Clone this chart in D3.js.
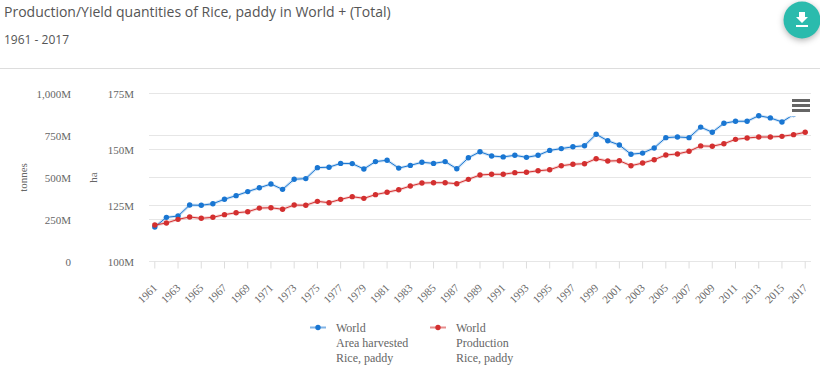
<!DOCTYPE html>
<html>
<head>
<meta charset="utf-8">
<script src="https://cdn.jsdelivr.net/npm/d3@7"></script>
<style>
	html, body { margin: 0; padding: 0; background: #fff; overflow: hidden; }
	svg { display: block; }
	.grid line { stroke: #e6e6e6; }
	.grid path { display: none; }
	.lab text { font-family: "Liberation Serif", serif; font-size: 11px; fill: #666; }
	.lab text.row { font-size: 12px; }
</style>
</head>
<body>
<svg></svg>
<script>
var years = d3.range(1961, 2018).map(String);
var tickYears = years.filter(function(d, i){ return i % 2 === 0; });

// million ha, right axis
var areaHarvested = [
	115.4, 119.7, 120.3, 125.2, 125.1, 125.8, 127.8, 129.4, 131.2, 132.9,
	134.6, 132.2, 136.7, 137.0, 141.9, 142.1, 143.8, 143.7, 141.3, 144.6,
	145.2, 141.7, 142.9, 144.3, 143.8, 144.6, 141.4, 146.3, 149.0, 147.1,
	146.7, 147.4, 146.5, 147.4, 149.6, 150.4, 151.2, 151.7, 156.8, 153.9,
	152.0, 147.9, 148.4, 150.7, 155.3, 155.6, 155.3, 160.0, 157.7, 161.7,
	162.6, 162.6, 165.1, 164.1, 162.3, 165.6, 167.2
];
// million tonnes, left axis
var production = [
	217, 229, 251, 265, 257, 263, 279, 290, 296, 318,
	320, 311, 336, 335, 358, 350, 370, 386, 376, 398,
	412, 427, 449, 467, 469, 469, 463, 489, 515, 519,
	519, 529, 531, 540, 546, 570, 579, 582, 612, 598,
	600, 570, 586, 606, 634, 640, 656, 688, 686, 701,
	727, 735, 741, 741, 745, 755, 769
];
var tonnesTicks = [0, 250, 500, 750, 1000];
var haTicks = [100, 125, 150, 175];
var legendArea = ["World", "Area harvested", "Rice, paddy"];
var legendProd = ["World", "Production", "Rice, paddy"];

var blue = "#1976d2",
    red = "#d32f2f",
    plotLeft = 149,
    plotRight = 811,
    plotTop = 93.5,
    plotBottom = 261.5;

var svg = d3.select("svg")
	.attr("width", 820)
	.attr("height", 371);

var x = d3.scalePoint().domain(years).range([plotLeft, plotRight]).padding(0.5);
var yTonnes = d3.scaleLinear().domain([0, 1000]).range([plotBottom, plotTop]);
var yHa = d3.scaleLinear().domain([100, 175]).range([plotBottom, plotTop]);

// header
svg.append("text")
	.attr("x", 4).attr("y", 17)
	.style("font-family", "Open Sans")
	.style("font-size", "14px")
	.style("fill", "#555")
	.text("Production/Yield quantities of Rice, paddy in World + (Total)");
svg.append("text")
	.attr("x", 4).attr("y", 44)
	.style("font-family", "Open Sans")
	.style("font-size", "12px")
	.style("fill", "#555")
	.text("1961 - 2017");
svg.append("line")
	.attr("x1", 0).attr("x2", 820)
	.attr("y1", 68.5).attr("y2", 68.5)
	.attr("stroke", "#ddd");

// download button
var btn = svg.append("g").attr("transform", "translate(802,20)");
btn.append("circle")
	.attr("r", 18.5)
	.attr("fill", "#2bbbad")
	.style("filter", "drop-shadow(0 2px 3px rgba(0,0,0,.3))");
btn.append("path")
	.attr("d", "M-3,-8H3V-3H6L0,3L-6,-3H-3ZM-6,5H6V7H-6Z")
	.attr("fill", "#fff");

// axes with gridlines
var axisL = d3.axisLeft(yTonnes)
	.tickValues(tonnesTicks)
	.tickSize(0)
	.tickFormat(function(d){ return d === 0 ? "0" : d3.format(",")(d) + "M"; });
var axisR = d3.axisLeft(yHa)
	.tickValues(haTicks)
	.tickSize(0)
	.tickFormat(function(d){ return d + "M"; });

svg.append("g")
	.attr("class", "grid")
	.attr("transform", "translate(" + plotLeft + ",0)")
	.call(d3.axisLeft(yTonnes).offset(0).tickValues(tonnesTicks).tickSize(-(plotRight - plotLeft)).tickFormat(""));
svg.append("g")
	.attr("class", "grid")
	.attr("transform", "translate(" + plotLeft + ",0)")
	.call(d3.axisLeft(yHa).offset(0).tickValues(haTicks).tickSize(-(plotRight - plotLeft)).tickFormat(""));

var gL = svg.append("g").attr("class", "lab").attr("transform", "translate(71,0)").call(axisL);
var gR = svg.append("g").attr("class", "lab").attr("transform", "translate(134,0)").call(axisR);
gL.select(".domain").remove();
gR.select(".domain").remove();
gL.selectAll("text").attr("x", 0).attr("y", 0);
gR.selectAll("text").attr("x", 0).attr("y", 0);

var axisX = d3.axisBottom(x).offset(0).tickValues(tickYears).tickSize(7);
var gX = svg.append("g")
	.attr("class", "lab")
	.attr("transform", "translate(0," + plotBottom + ")")
	.call(axisX);
gX.select(".domain").remove();
gX.selectAll("line").attr("stroke", "#ddd");
gX.selectAll("text")
	.attr("text-anchor", "end")
	.attr("x", 3)
	.attr("y", 27)
	.attr("dy", 0)
	.attr("transform", "rotate(-45 3 27)");

// axis titles
var axisTitle = svg.append("g").attr("class", "lab");
axisTitle.append("text")
	.attr("transform", "translate(27,177.5) rotate(-90)")
	.attr("text-anchor", "middle")
	.text("tonnes");
axisTitle.append("text")
	.attr("transform", "translate(97,177.5) rotate(-90)")
	.attr("text-anchor", "middle")
	.text("ha");

// series
function drawSeries(values, yScale, color){
	var line = d3.line()
		.x(function(d, i){ return x(years[i]); })
		.y(function(d){ return yScale(d); });
	var g = svg.append("g");
	g.append("path")
		.attr("d", line(values))
		.attr("fill", "none")
		.attr("stroke", color)
		.attr("stroke-opacity", 0.2)
		.attr("stroke-width", 3);
	g.append("path")
		.attr("d", line(values))
		.attr("fill", "none")
		.attr("stroke", color)
		.attr("stroke-width", 1);
	g.selectAll("circle")
		.data(values)
		.join("circle")
		.attr("cx", function(d, i){ return x(years[i]); })
		.attr("cy", function(d){ return yScale(d); })
		.attr("r", 2.7)
		.attr("fill", color);
}
drawSeries(areaHarvested, yHa, blue);
drawSeries(production, yTonnes, red);

// context menu button sits on top of the end of the blue line
svg.append("rect")
	.attr("x", 788).attr("y", 96)
	.attr("width", 26).attr("height", 20.5)
	.attr("fill", "#fff");
svg.selectAll(".menu")
	.data([100.5, 105.5, 110.5])
	.join("line")
	.attr("class", "menu")
	.attr("x1", 792).attr("x2", 810)
	.attr("y1", function(d){ return d; })
	.attr("y2", function(d){ return d; })
	.attr("stroke", "#666")
	.attr("stroke-width", 3);

// legend
function drawLegend(x0, color, rows){
	var g = svg.append("g").attr("class", "lab").attr("transform", "translate(" + x0 + ",327.5)");
	g.append("line")
		.attr("x1", 0).attr("x2", 16)
		.attr("stroke", color)
		.attr("stroke-opacity", 0.55)
		.attr("stroke-width", 2);
	g.append("circle")
		.attr("cx", 8)
		.attr("r", 2.7)
		.attr("fill", color);
	g.selectAll(".row")
		.data(rows)
		.join("text")
		.attr("class", "row")
		.attr("x", 26)
		.attr("y", function(d, i){ return 4.5 + i * 15; })
		.text(function(d){ return d; });
}
drawLegend(310, blue, legendArea);
drawLegend(430, red, legendProd);
</script>
</body>
</html>
